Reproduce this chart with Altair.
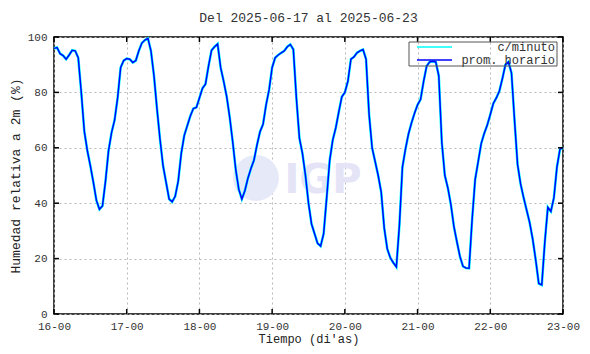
import altair as alt
import pandas as pd

# ---------------- data ----------------
start = "2025-06-16 00:00"
# hourly mean relative humidity (%), 16-00 .. 23-00
rh_hourly = [
    95.9, 96.2, 94.0, 93.3, 92.0, 93.5, 95.2, 95.0, 92.5, 80.0, 66.0, 59.0,
    53.5, 47.5, 41.0, 37.8, 39.0, 48.0, 59.0, 65.5, 70.0, 78.0, 89.0, 91.5,
    92.2, 92.0, 90.8, 91.5, 95.0, 97.8, 98.9, 99.5, 95.0, 86.0, 74.0, 63.0,
    53.5, 47.5, 41.5, 40.5, 42.5, 48.0, 58.0, 64.5, 68.0, 71.5, 74.2, 74.6,
    78.0, 81.5, 83.0, 89.5, 95.2, 96.5, 97.5, 89.0, 84.0, 78.5, 71.0, 62.0,
    52.0, 45.0, 41.5, 44.5, 49.0, 52.5, 55.5, 61.0, 65.8, 68.5, 75.5, 81.0,
    89.0, 92.5, 93.5, 94.3, 95.0, 96.5, 97.3, 95.5, 78.0, 63.5, 58.0, 50.0,
    40.0, 32.5, 29.0, 25.5, 24.5, 29.0, 42.0, 55.5, 62.8, 67.2, 73.0, 78.4,
    80.0, 84.0, 92.0, 92.8, 94.3, 95.0, 95.5, 92.0, 72.0, 60.0, 55.0, 50.0,
    44.0, 31.0, 23.5, 20.3, 18.5, 17.0, 32.0, 53.0, 59.5, 65.0, 69.0, 72.5,
    75.5, 77.5, 84.0, 89.5, 91.0, 91.2, 91.0, 86.0, 62.0, 50.0, 45.5, 39.5,
    31.5, 26.0, 20.7, 17.2, 16.6, 16.5, 34.0, 48.5, 55.0, 61.5, 65.2, 68.2,
    72.0, 76.0, 78.0, 80.5, 85.0, 90.0, 91.0, 87.0, 70.0, 54.0, 47.0, 42.0,
    37.5, 33.0, 27.0, 19.5, 11.0, 10.5, 26.0, 38.5, 37.0, 42.0, 53.0, 59.5,
    60.0,
]
series_names = ["c/minuto", "prom. horario"]
series_colors = ["#00ffff", "#0000ff"]
day_ticks = ["2025-06-16 00:00", "2025-06-17 00:00", "2025-06-18 00:00",
             "2025-06-19 00:00", "2025-06-20 00:00", "2025-06-21 00:00",
             "2025-06-22 00:00", "2025-06-23 00:00"]
y_ticks = [0, 20, 40, 60, 80, 100]
title_text = "Del 2025-06-17 al 2025-06-23"
x_title = "Tiempo (di'as)"
y_title = "Humedad relativa a 2m (%)"
watermark = "IGP"

# ---------------- tables ----------------
times = pd.date_range(start, periods=len(rh_hourly), freq="h")
df = pd.DataFrame({"t": times, "rh": rh_hourly})
df_days = pd.DataFrame({"t": pd.to_datetime(day_ticks)})
df_y = pd.DataFrame({"rh": y_ticks})
one = pd.DataFrame({"k": [0]})

W, H = 509, 277
FONT = "Liberation Mono"


def dt(s):
    ts = pd.Timestamp(s)
    return alt.DateTime(year=ts.year, month=ts.month, date=ts.day, hours=ts.hour)


xscale = alt.Scale(domain=[dt(day_ticks[0]), dt(day_ticks[-1])], nice=False)
yscale = alt.Scale(domain=[y_ticks[0], y_ticks[-1]], nice=False)

x_enc = alt.X(
    "t:T", scale=xscale,
    axis=alt.Axis(values=[dt(d) for d in day_ticks], format="%d-%H",
                  title=x_title, labelOverlap=False, labelFlush=False,
                  labelFontSize=11, titleFontSize=12,
                  labelPadding=6, titlePadding=2),
)
y_enc = alt.Y(
    "rh:Q", scale=yscale,
    axis=alt.Axis(values=y_ticks, title=y_title, labelPadding=7,
                  labelFontSize=11, titleFontSize=13, titlePadding=5),
)

# watermark
wm_circle = alt.Chart(one).mark_circle(size=2100, color="#e6e9f8", opacity=1).encode(
    x=alt.value(202), y=alt.value(141))
wm_text = alt.Chart(one).mark_text(
    text=watermark, font="DejaVu Sans", fontWeight="bold", fontSize=40,
    color="#e4e4f6", align="center", baseline="alphabetic").encode(
    x=alt.value(269), y=alt.value(156))

# data lines
cyan = alt.Chart(df).mark_line(color=series_colors[0], strokeWidth=2.6).encode(
    x=x_enc, y=y_enc)
blue = alt.Chart(df).mark_line(color=series_colors[1], strokeWidth=1.5).encode(
    x="t:T", y="rh:Q")

# inward ticks (gnuplot style)
tick_bottom = alt.Chart(df_days).mark_rule(color="black", strokeWidth=1.5).encode(
    x="t:T", y=alt.value(H), y2=alt.value(H - 5))
tick_top = alt.Chart(df_days).mark_rule(color="black", strokeWidth=1.5).encode(
    x="t:T", y=alt.value(0), y2=alt.value(5))
tick_left = alt.Chart(df_y).mark_rule(color="black", strokeWidth=1.5).encode(
    y="rh:Q", x=alt.value(0), x2=alt.value(5))
tick_right = alt.Chart(df_y).mark_rule(color="black", strokeWidth=1.5).encode(
    y="rh:Q", x=alt.value(W), x2=alt.value(W - 5))

# legend (drawn by hand, gnuplot style)
leg_box = alt.Chart(one).mark_rect(fill=None, stroke="#555555", strokeWidth=1).encode(
    x=alt.value(355), x2=alt.value(503), y=alt.value(5), y2=alt.value(29))
leg_layers = []
for i, (name, col) in enumerate(zip(series_names, series_colors)):
    yy = 10 + i * 13
    leg_layers.append(alt.Chart(one).mark_rule(color=col, strokeWidth=1.3).encode(
        x=alt.value(363), x2=alt.value(398), y=alt.value(yy)))
    leg_layers.append(alt.Chart(one).mark_text(
        text=name, font=FONT, fontSize=12, color="#333333", align="right",
        baseline="middle").encode(x=alt.value(501), y=alt.value(yy)))

chart = alt.layer(
    wm_circle, wm_text, cyan, blue, tick_bottom, tick_top, tick_left, tick_right,
    leg_box, *leg_layers,
).properties(
    width=W, height=H,
    title=alt.TitleParams(title_text, font=FONT, fontSize=13, fontWeight="normal",
                          color="#333333", anchor="middle", offset=6),
    padding={"left": 46, "top": 29, "right": 19, "bottom": 32},
    autosize=alt.AutoSizeParams(type="none"),
).configure_view(
    stroke="black", strokeWidth=1.5,
).configure_axis(
    domain=False, ticks=False,
    grid=True, gridColor="#b8b8b8", gridDash=[2, 3], gridWidth=1,
    labelFont=FONT, labelColor="#333333",
    titleFont=FONT, titleFontWeight="normal", titleColor="#222222",
)

chart.save("out.html", embed_options={"renderer": "svg", "actions": False})
